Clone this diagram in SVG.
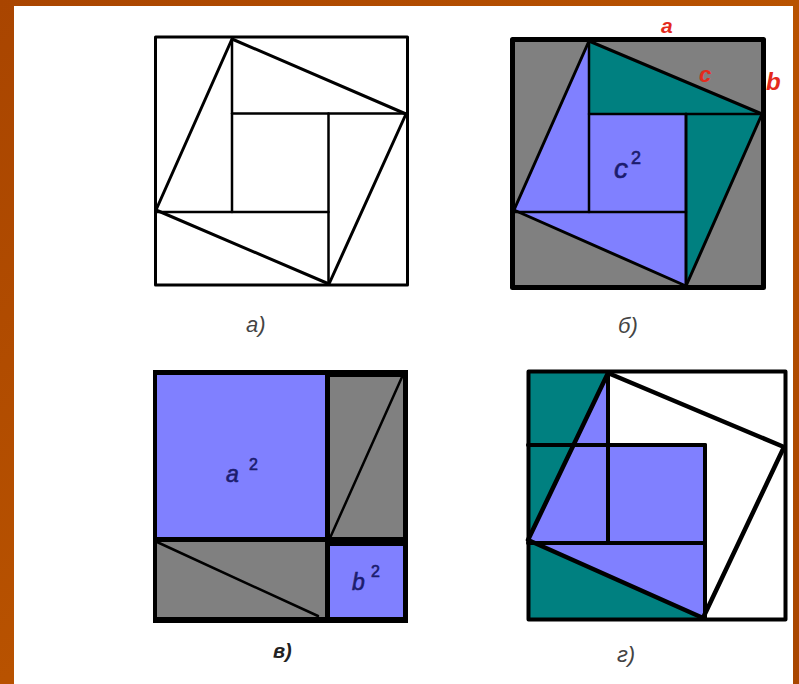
<svg xmlns="http://www.w3.org/2000/svg" width="799" height="684" viewBox="0 0 799 684">
<style>
.ln{stroke:#000;fill:none;stroke-linecap:round;stroke-linejoin:round}
.gray{fill:#808080}
.teal{fill:#008080}
.blue{fill:#8080ff}
.cap{font-family:"Liberation Sans",Arial,sans-serif;font-style:italic;fill:#444}
.red{font-family:"Liberation Sans",Arial,sans-serif;font-style:italic;font-weight:bold;fill:#e42a1c}
.sq{font-family:"Liberation Sans",Arial,sans-serif;fill:#1c1c6e;stroke:#1c1c6e;stroke-width:0.6}
</style>
<defs>
<linearGradient id="bg" x1="0" y1="0" x2="1" y2="1">
<stop offset="0" stop-color="#a94500"/>
<stop offset="0.5" stop-color="#b85200"/>
<stop offset="1" stop-color="#a84600"/>
</linearGradient>
</defs>
<rect x="0" y="0" width="799" height="684" fill="url(#bg)"/>
<rect x="14" y="6" width="779" height="678" fill="#fff"/>

<g id="panel-a">
<rect x="155.5" y="37" width="252" height="248" class="ln" stroke-width="3"/>
<polygon points="232,39 406,114 329,284 156,210" class="ln" stroke-width="3"/>
<line x1="232" y1="39" x2="232" y2="212" class="ln" stroke-width="2.5"/>
<line x1="232" y1="113.5" x2="406" y2="113.5" class="ln" stroke-width="2.5"/>
<line x1="328.5" y1="113.5" x2="328.5" y2="284" class="ln" stroke-width="2.5"/>
<line x1="156" y1="212" x2="328.5" y2="212" class="ln" stroke-width="2.5"/>
<text x="246" y="332" font-size="22" class="cap">а)</text>
</g>

<g id="panel-b">
<rect x="512.5" y="39.5" width="251" height="248" class="gray"/>
<polygon points="589,41 762,114 589,114" class="teal"/>
<polygon points="686,114 762,114 686,286" class="teal"/>
<polygon points="589,41 589,114 686,114 686,286 514,210" class="blue"/>
<rect x="512.5" y="39.5" width="251" height="248" class="ln" stroke-width="5"/>
<polygon points="589,41 762,114 686,286 514,210" class="ln" stroke-width="3"/>
<line x1="589" y1="41" x2="589" y2="212" class="ln" stroke-width="2.5"/>
<line x1="589" y1="114" x2="762" y2="114" class="ln" stroke-width="2.5"/>
<line x1="686" y1="114" x2="686" y2="286" class="ln" stroke-width="3"/>
<line x1="514" y1="212" x2="686" y2="212" class="ln" stroke-width="2.5"/>
<text x="614" y="178" font-size="28" font-style="italic" class="sq">c</text>
<text x="631" y="164" font-size="18" class="sq">2</text>
<text x="661" y="33" font-size="21" class="red">a</text>
<text x="699" y="82" font-size="22" class="red">c</text>
<text x="766" y="90" font-size="24" class="red">b</text>
<text x="618" y="333" font-size="22" class="cap">б)</text>
</g>

<g id="panel-v">
<rect x="153" y="370" width="255" height="253" fill="#000"/>
<rect x="157" y="375" width="168" height="162" class="blue"/>
<rect x="330" y="377" width="73" height="160" class="gray"/>
<rect x="157" y="542" width="168" height="75" class="gray"/>
<rect x="330" y="546" width="73" height="71" class="blue"/>
<line x1="330" y1="538" x2="402" y2="377" class="ln" stroke-width="2.5"/>
<line x1="157" y1="542" x2="318" y2="616" class="ln" stroke-width="2.5"/>
<text x="226" y="482" font-size="23" font-style="italic" class="sq">a</text>
<text x="249" y="470" font-size="16" class="sq">2</text>
<text x="352" y="590" font-size="23" font-style="italic" class="sq">b</text>
<text x="371" y="577" font-size="16" class="sq">2</text>
<text x="273" y="658" font-size="20" font-weight="bold" class="cap" style="fill:#222">в)</text>
</g>

<g id="panel-g">
<rect x="528.5" y="371.5" width="257" height="248" fill="#fff"/>
<rect x="528.5" y="371.5" width="79.5" height="171.5" class="teal"/>
<rect x="528.5" y="543" width="176.5" height="76" class="teal"/>
<polygon points="608,373 528,540 703,618 705,543 705,445 608,445" class="blue"/>
<rect x="528.5" y="371.5" width="257" height="248" class="ln" stroke-width="4"/>
<polygon points="608,373 784,447 703,618 528,540" class="ln" stroke-width="4.5"/>
<line x1="608" y1="373" x2="608" y2="543" class="ln" stroke-width="4"/>
<line x1="528" y1="445" x2="705" y2="445" class="ln" stroke-width="4"/>
<line x1="705" y1="445" x2="705" y2="618" class="ln" stroke-width="4"/>
<line x1="528" y1="543" x2="705" y2="543" class="ln" stroke-width="4"/>
<text x="617" y="662" font-size="22" class="cap">г)</text>
</g>
</svg>
